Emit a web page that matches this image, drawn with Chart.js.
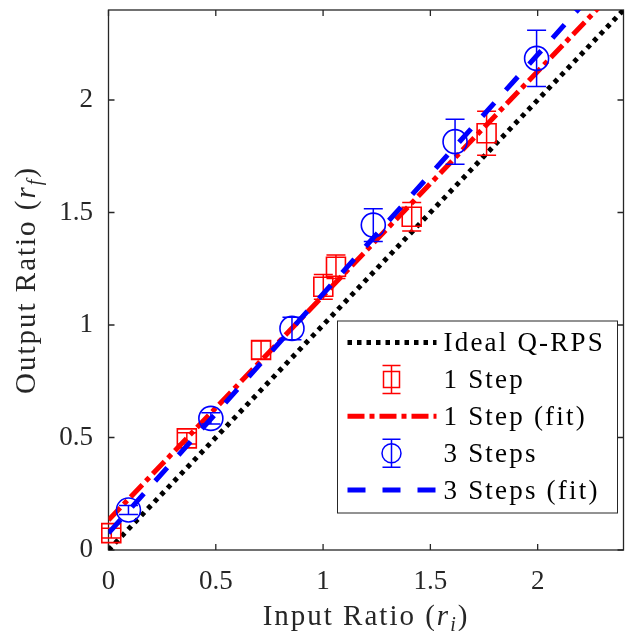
<!DOCTYPE html>
<html>
<head>
<meta charset="utf-8">
<script src="https://cdn.jsdelivr.net/npm/chart.js@4/dist/chart.umd.min.js"></script>
<style>
  html, body { margin: 0; padding: 0; background: #fff; }
  #wrap { width: 626px; height: 631px; }
</style>
</head>
<body>
<div id="wrap"><canvas id="ratioChart" width="626" height="631"></canvas></div>
<script>
// values
const xTicks = [0, 0.5, 1, 1.5, 2];
const yTicks = [0, 0.5, 1, 1.5, 2];

const idealX = [0, 2.4];
const idealY = [0, 2.4];

const oneStepX = [0.013, 0.365, 0.711, 1.001, 1.060, 1.413, 1.762];
const oneStepY = [0.075, 0.496, 0.889, 1.170, 1.259, 1.481, 1.852];
const oneStepErr = [0.022, 0.025, 0.04, 0.055, 0.052, 0.063, 0.098];

const oneFitX = [0, 2.4];
const oneFitY = [0.133, 2.526];

const threeStepX = [0.093, 0.477, 0.855, 1.234, 1.615, 1.995];
const threeStepY = [0.178, 0.585, 0.985, 1.444, 1.815, 2.185];
const threeStepErr = [0.02, 0.025, 0.05, 0.073, 0.1, 0.125];

const threeFitX = [0, 2.4];
const threeFitY = [0.075, 2.627];

const RED = '#ff0000';
const BLUE = '#0000ff';
const AXIS = '#262626';
const SERIF = '"Liberation Serif", "Times New Roman", serif';

const toPoints = (xs, ys) => xs.map((x, i) => ({ x: x, y: ys[i] }));

// vertical error bars, drawn right after their own dataset
const errorBars = {
  id: 'errorBars',
  afterDatasetDraw(chart, args) {
    const ds = chart.data.datasets[args.index];
    if (!ds.errors) return;
    const { ctx, scales: { x, y } } = chart;
    ctx.save();
    ctx.strokeStyle = ds.borderColor;
    ctx.lineWidth = 1.5;
    ctx.beginPath();
    ds.data.forEach((p, i) => {
      const px = x.getPixelForValue(p.x);
      const top = y.getPixelForValue(p.y + ds.errors[i]);
      const bot = y.getPixelForValue(p.y - ds.errors[i]);
      ctx.moveTo(px, top); ctx.lineTo(px, bot);
      ctx.moveTo(px - 9.5, top); ctx.lineTo(px + 9.5, top);
      ctx.moveTo(px - 9.5, bot); ctx.lineTo(px + 9.5, bot);
    });
    ctx.stroke();
    ctx.restore();
  }
};

// box around the axes with inward ticks (matlab look)
const frame = {
  id: 'frame',
  beforeDatasetsDraw(chart) {
    const { ctx, chartArea: a, scales: { x, y } } = chart;
    ctx.save();
    ctx.strokeStyle = AXIS;
    ctx.lineWidth = 1.3;
    ctx.strokeRect(a.left, a.top, a.right - a.left, a.bottom - a.top);
    ctx.beginPath();
    xTicks.forEach(v => {
      const px = x.getPixelForValue(v);
      ctx.moveTo(px, a.bottom); ctx.lineTo(px, a.bottom - 6);
      ctx.moveTo(px, a.top); ctx.lineTo(px, a.top + 6);
    });
    yTicks.forEach(v => {
      const py = y.getPixelForValue(v);
      ctx.moveTo(a.left, py); ctx.lineTo(a.left + 6, py);
      ctx.moveTo(a.right, py); ctx.lineTo(a.right - 6, py);
    });
    ctx.stroke();
    ctx.restore();
  }
};

// text with italic math parts: [text, 'n' | 'i' | 'sub']
function fontFor(s, size) {
  if (s === 'i') return 'italic ' + size + 'px ' + SERIF;
  if (s === 'sub') return 'italic ' + Math.round(size * 0.7) + 'px ' + SERIF;
  return size + 'px ' + SERIF;
}
function richWidth(ctx, parts, size) {
  let w = 0;
  parts.forEach(([t, s]) => {
    ctx.font = fontFor(s, size);
    w += ctx.measureText(t).width;
  });
  return w;
}
function drawRich(ctx, parts, x, y, size) {
  parts.forEach(([t, s]) => {
    ctx.font = fontFor(s, size);
    ctx.fillText(t, x, s === 'sub' ? y + size * 0.22 : y);
    x += ctx.measureText(t).width;
  });
}

const titles = {
  id: 'titles',
  afterDraw(chart) {
    const { ctx, chartArea: a } = chart;
    const size = 29;
    ctx.save();
    ctx.fillStyle = AXIS;
    ctx.textBaseline = 'alphabetic';
    ctx.letterSpacing = '2px';

    const xParts = [['Input Ratio (', 'n'], ['r', 'i'], ['i', 'sub'], [')', 'n']];
    const xw = richWidth(ctx, xParts, size);
    drawRich(ctx, xParts, (a.left + a.right) / 2 - xw / 2, 625, size);

    const yParts = [['Output Ratio (', 'n'], ['r', 'i'], ['f', 'sub'], [')', 'n']];
    const yw = richWidth(ctx, yParts, size);
    ctx.translate(35, (a.top + a.bottom) / 2);
    ctx.rotate(-Math.PI / 2);
    drawRich(ctx, yParts, -yw / 2, 0, size);
    ctx.restore();
  }
};

const legendBox = {
  id: 'legendBox',
  afterDraw(chart) {
    const { ctx, chartArea: a } = chart;
    const w = 280, h = 192;
    const left = a.right - 6 - w;
    const top = a.bottom - 37 - h;
    ctx.save();
    ctx.fillStyle = '#fff';
    ctx.fillRect(left, top, w, h);
    ctx.strokeStyle = AXIS;
    ctx.lineWidth = 1;
    ctx.strokeRect(left, top, w, h);

    const legendOrder = [4, 3, 2, 1, 0];
    legendOrder.forEach((di, row) => {
      const ds = chart.data.datasets[di];
      const cy = top + 21.5 + row * 36.9;
      ctx.save();
      if (ds.errors) {
        const cx = left + 54;
        ctx.strokeStyle = ds.borderColor;
        ctx.lineWidth = 1.5;
        ctx.beginPath();
        ctx.moveTo(cx, cy - 14); ctx.lineTo(cx, cy + 14);
        ctx.moveTo(cx - 9, cy - 14); ctx.lineTo(cx + 9, cy - 14);
        ctx.moveTo(cx - 9, cy + 14); ctx.lineTo(cx + 9, cy + 14);
        ctx.stroke();
        ctx.beginPath();
        if (ds.pointStyle === 'rect') ctx.rect(cx - 8, cy - 8, 16, 16);
        else ctx.arc(cx, cy, 9.5, 0, Math.PI * 2);
        ctx.stroke();
      } else {
        ctx.strokeStyle = ds.borderColor;
        ctx.lineWidth = ds.borderWidth;
        ctx.setLineDash(ds.borderDash || []);
        ctx.beginPath();
        ctx.moveTo(left + 10, cy);
        ctx.lineTo(left + 99, cy);
        ctx.stroke();
      }
      ctx.restore();
      ctx.fillStyle = '#000';
      ctx.font = '27px ' + SERIF;
      ctx.letterSpacing = '2.2px';
      ctx.textBaseline = 'alphabetic';
      ctx.fillText(ds.label, left + 106, cy + 8.5);
    });
    ctx.restore();
  }
};

const ctx = document.getElementById('ratioChart').getContext('2d');

new Chart(ctx, {
  type: 'scatter',
  data: {
    datasets: [
      {
        label: '3 Steps (fit)',
        data: toPoints(threeFitX, threeFitY),
        showLine: true, pointRadius: 0,
        borderColor: BLUE, borderWidth: 5, borderDash: [18, 17],
        borderCapStyle: 'butt', clip: 0, order: 1
      },
      {
        label: '3 Steps',
        data: toPoints(threeStepX, threeStepY),
        errors: threeStepErr,
        pointStyle: 'circle', pointRadius: 12, borderWidth: 1.6,
        borderColor: BLUE, backgroundColor: 'rgba(0,0,0,0)',
        clip: false, order: 2
      },
      {
        label: '1 Step (fit)',
        data: toPoints(oneFitX, oneFitY),
        showLine: true, pointRadius: 0,
        borderColor: RED, borderWidth: 5, borderDash: [17, 5, 5, 5],
        borderCapStyle: 'butt', clip: 0, order: 3
      },
      {
        label: '1 Step',
        data: toPoints(oneStepX, oneStepY),
        errors: oneStepErr,
        pointStyle: 'rect', pointRadius: 13.4, borderWidth: 1.6,
        borderColor: RED, backgroundColor: 'rgba(0,0,0,0)',
        clip: false, order: 4
      },
      {
        label: 'Ideal Q-RPS',
        data: toPoints(idealX, idealY),
        showLine: true, pointRadius: 0,
        borderColor: '#000', borderWidth: 5, borderDash: [4.5, 5],
        borderCapStyle: 'butt', clip: 0, order: 5
      }
    ]
  },
  options: {
    responsive: false,
    animation: false,
    events: [],
    layout: { autoPadding: false, padding: { left: 0, right: 2.5, top: 10, bottom: 0 } },
    plugins: { legend: { display: false }, tooltip: { enabled: false } },
    scales: {
      x: {
        type: 'linear', position: 'bottom', min: 0, max: 2.4,
        grid: { display: false, drawTicks: false },
        border: { display: false },
        afterBuildTicks: s => { s.ticks = xTicks.map(v => ({ value: v })); },
        afterFit: s => { s.height = 81; s.paddingLeft = 0; s.paddingRight = 0; },
        ticks: {
          padding: 16, maxRotation: 0, autoSkip: false, color: AXIS,
          font: { family: SERIF, size: 27 },
          callback: v => String(v)
        }
      },
      y: {
        type: 'linear', min: 0, max: 2.4,
        grid: { display: false, drawTicks: false },
        border: { display: false },
        afterBuildTicks: s => { s.ticks = yTicks.map(v => ({ value: v })); },
        afterFit: s => { s.width = 108.5; s.paddingTop = 0; s.paddingBottom = 0; },
        ticks: {
          padding: 15.5, autoSkip: false, color: AXIS,
          font: { family: SERIF, size: 27 },
          callback: v => String(v)
        }
      }
    }
  },
  plugins: [frame, errorBars, titles, legendBox]
});
</script>
</body>
</html>
